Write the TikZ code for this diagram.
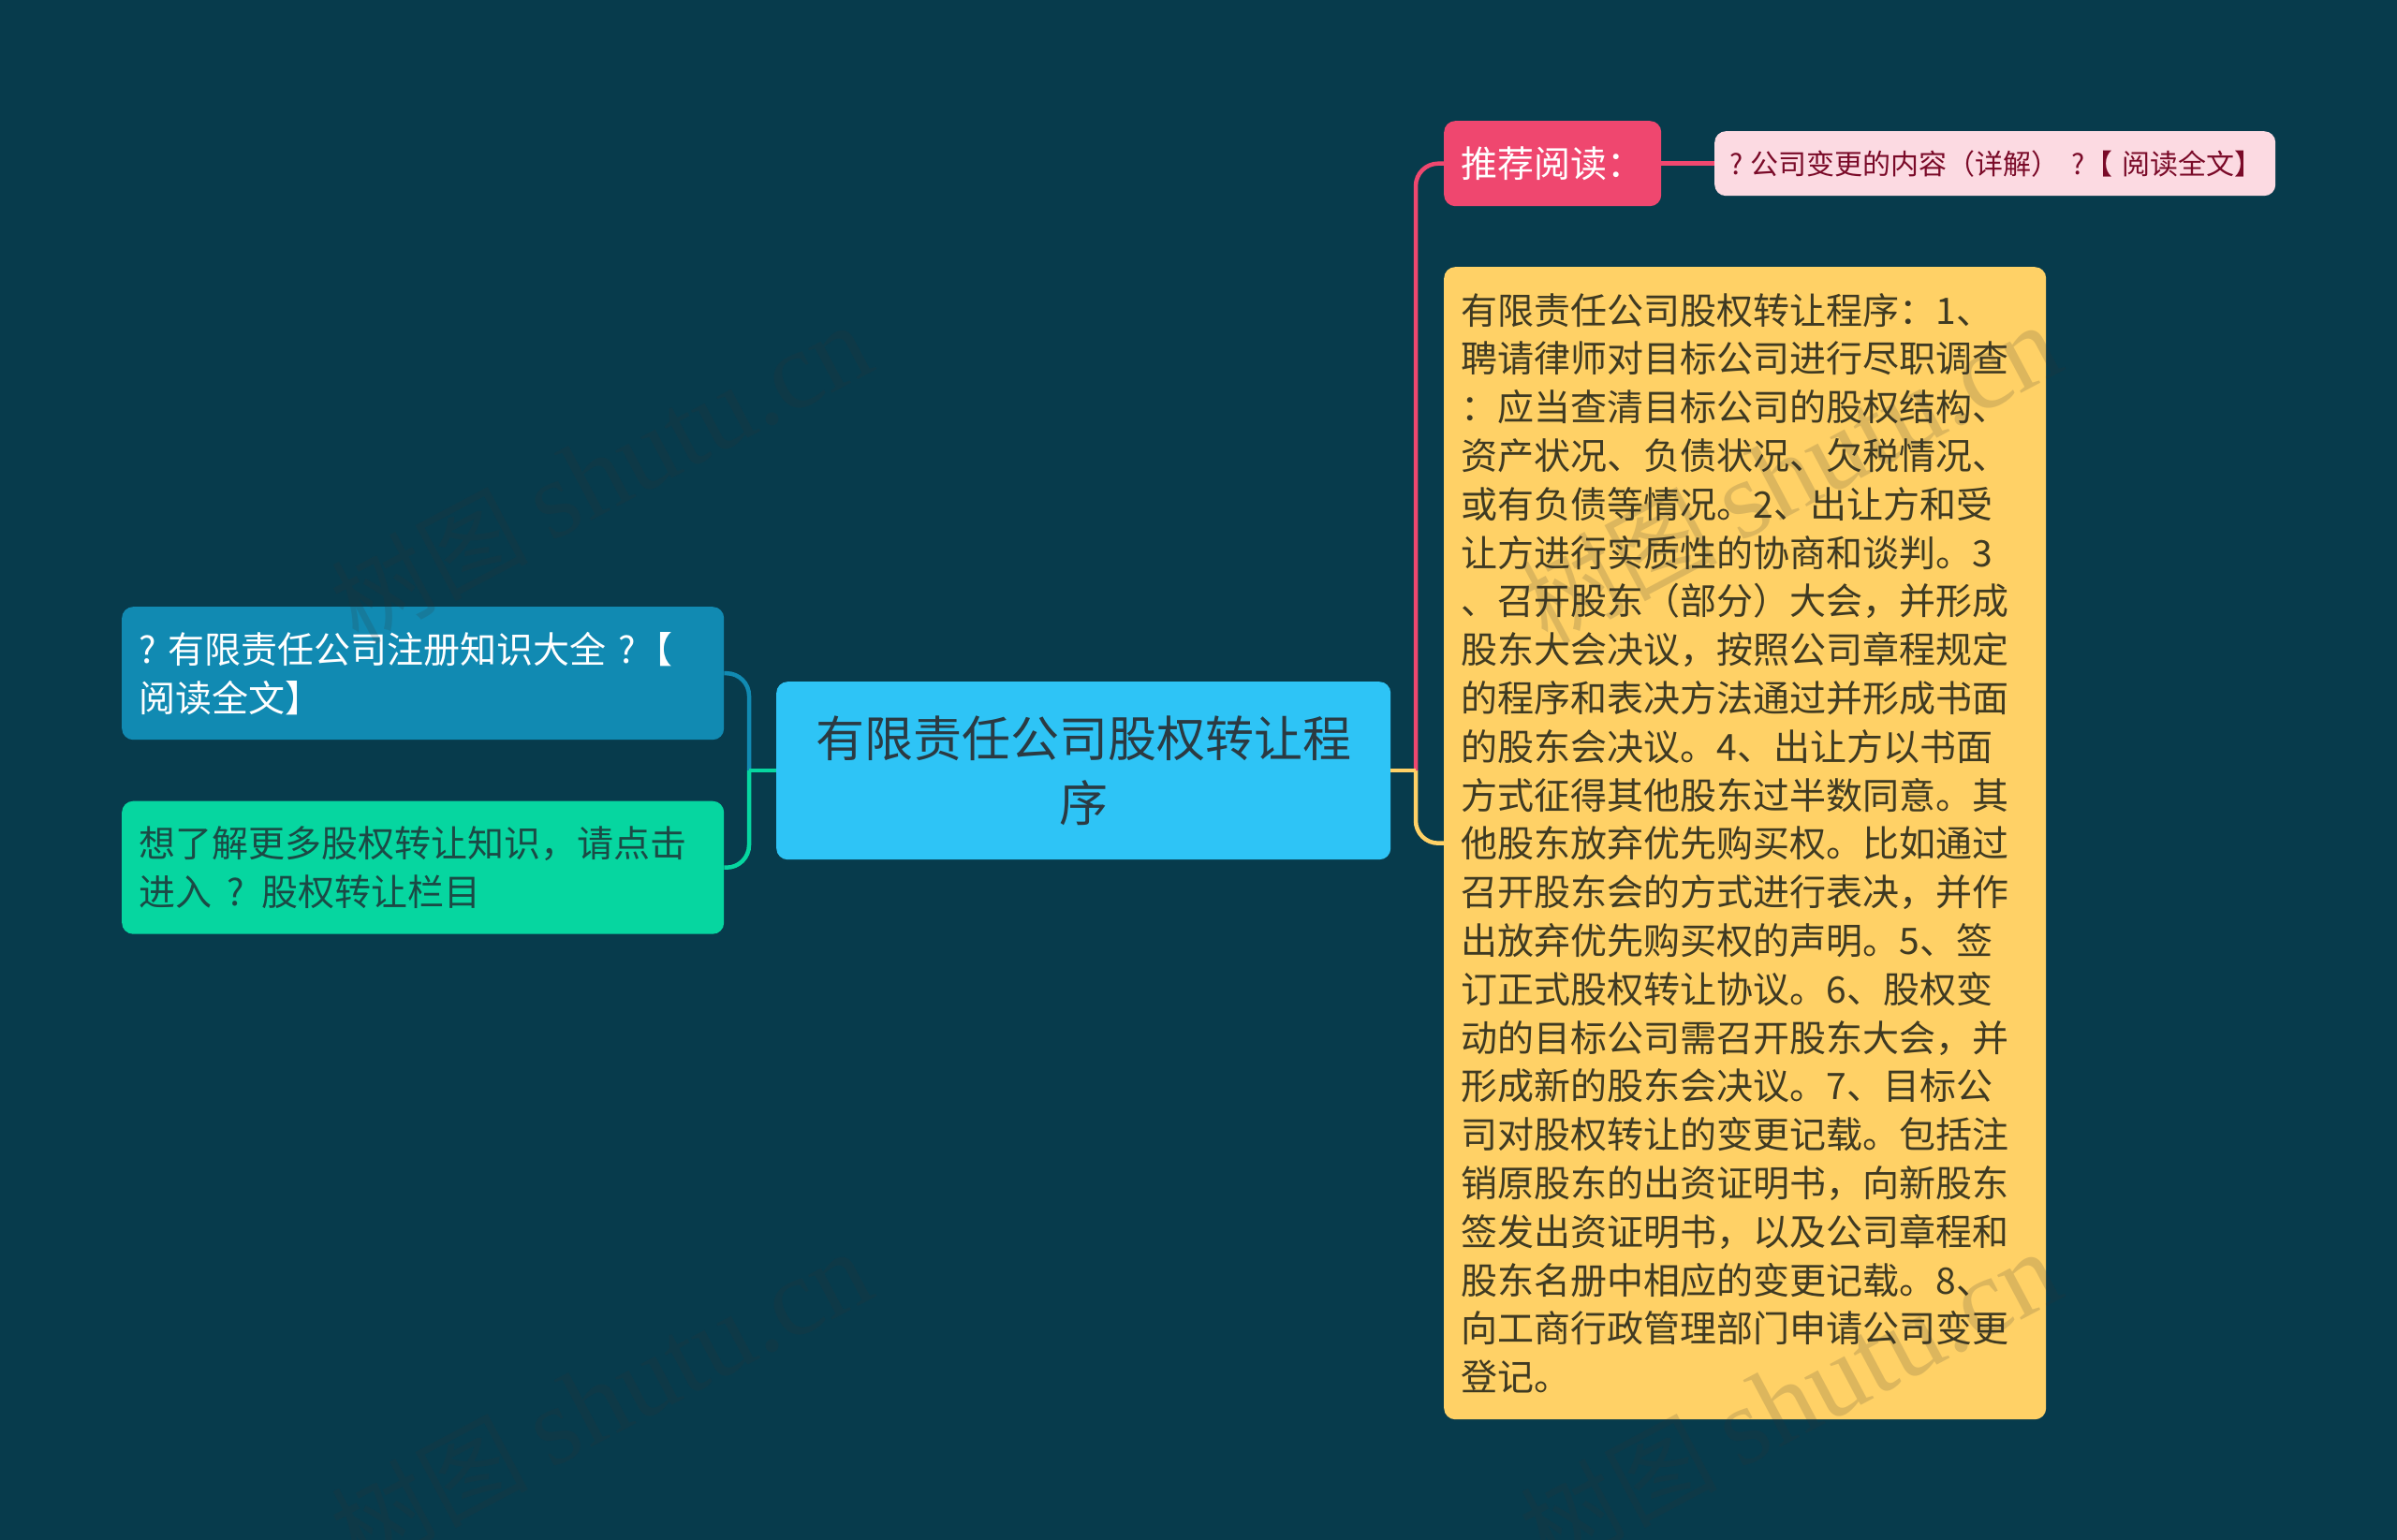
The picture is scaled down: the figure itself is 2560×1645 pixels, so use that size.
\documentclass[tikz,border=0pt]{standalone}
\usepackage{fontspec}
\setmainfont{Noto Sans CJK SC}
\newfontfamily\wmfont{Liberation Serif}
\newfontfamily\wmcjk{Noto Sans CJK SC}
\usetikzlibrary{calc}
\definecolor{bgc}{HTML}{073B4C}
\definecolor{pinkc}{HTML}{EF476F}
\definecolor{lightc}{HTML}{FCDAE2}
\definecolor{yellowc}{HTML}{FFD166}
\definecolor{bluec}{HTML}{118AB2}
\definecolor{greenc}{HTML}{06D6A0}
\definecolor{rootc}{HTML}{2EC4F6}
\definecolor{darktext}{HTML}{2B3A42}
\definecolor{yeltext}{HTML}{3F3A22}
\definecolor{grntext}{HTML}{1B4A45}
\definecolor{redtext}{HTML}{7A0A28}
\definecolor{wmc}{HTML}{333333}
\newcommand{\fsz}[2]{\fontsize{#1pt}{#2pt}\selectfont}
\tikzset{
  x=1pt,y=-1pt,
  box/.style={rectangle,rounded corners=12pt,inner ysep=0pt,inner xsep=18.5pt,anchor=north west,align=left},
  link/.style={line width=4.5pt,rounded corners=24pt},
  straightlink/.style={line width=4.5pt},
  wm/.style={rotate=28,opacity=.17,text=wmc,inner sep=0pt},
}
\begin{document}
\begin{tikzpicture}
\useasboundingbox[fill=bgc] (0,0) rectangle (2560,1645);
\node[box,fill=rootc,text=darktext,minimum height=190pt,text width=619pt,align=center,font=\fsz{52}{69}] (root) at (829,728) {有限责任公司股权转让程\\序};
\node[box,fill=pinkc,text=white,minimum height=91pt,text width=195pt,font=\fsz{39}{52}] (rec) at (1542,129) {推荐阅读：};
\node[box,fill=lightc,text=redtext,minimum height=69pt,text width=567pt,inner xsep=16pt,font=\fsz{30}{40}] (link1) at (1831,140) {\mbox{?\hspace{.26em}公司变更的内容（详解）\hspace{.43em}?【 阅读全文】}};
\node[box,fill=yellowc,text=yeltext,minimum height=1231pt,text width=606pt,font=\fsz{39}{51.8}] (main) at (1542,285) {有限责任公司股权转让程序：1、\\
聘请律师对目标公司进行尽职调查\\
：应当查清目标公司的股权结构、\\
资产状况、负债状况、欠税情况、\\
或有负债等情况。2、出让方和受\\
让方进行实质性的协商和谈判。3\\
、召开股东（部分）大会，并形成\\
股东大会决议，按照公司章程规定\\
的程序和表决方法通过并形成书面\\
的股东会决议。4、出让方以书面\\
方式征得其他股东过半数同意。其\\
他股东放弃优先购买权。比如通过\\
召开股东会的方式进行表决，并作\\
出放弃优先购买权的声明。5、签\\
订正式股权转让协议。6、股权变\\
动的目标公司需召开股东大会，并\\
形成新的股东会决议。7、目标公\\
司对股权转让的变更记载。包括注\\
销原股东的出资证明书，向新股东\\
签发出资证明书，以及公司章程和\\
股东名册中相应的变更记载。8、\\
向工商行政管理部门申请公司变更\\
登记。};
\node[box,fill=bluec,text=white,minimum height=142pt,text width=606pt,font=\fsz{39}{52}] (lblue) at (130,648) {?\hspace{.32em}有限责任公司注册知识大全 ?【\\阅读全文】};
\node[box,fill=greenc,text=grntext,minimum height=142pt,text width=606pt,font=\fsz{39}{52}] (lgreen) at (130,855.5) {想了解更多股权转让知识，请点击\\进入\hspace{.4em}?\hspace{.47em}股权转让栏目};
\coordinate (jr) at (root.east -| 1512,0);
\coordinate (jl) at (root.west -| 800,0);
\draw[link,yellowc] (jr) |- (main.west);
\draw[link,pinkc] (jr) |- (rec.west);
\draw[straightlink,yellowc] (root.east) -- (jr);
\draw[straightlink,pinkc] (rec.east) -- (link1.west);
\draw[link,bluec] (jl) |- (lblue.east);
\draw[link,greenc] (jl) |- (lgreen.east);
\draw[straightlink,greenc] (root.west) -- (jl);
\foreach \wx/\wy/\wn in {642/506/wa,1912/506/wb,642/1496/wc,1912/1496/wd}{
  \node[wm,font=\wmcjk\fsz{105}{105}] (\wn) at (\wx,\wy) {树图 {\wmfont\fontsize{118pt}{118pt}\selectfont shutu.cn}};
}
\end{tikzpicture}
\end{document}
